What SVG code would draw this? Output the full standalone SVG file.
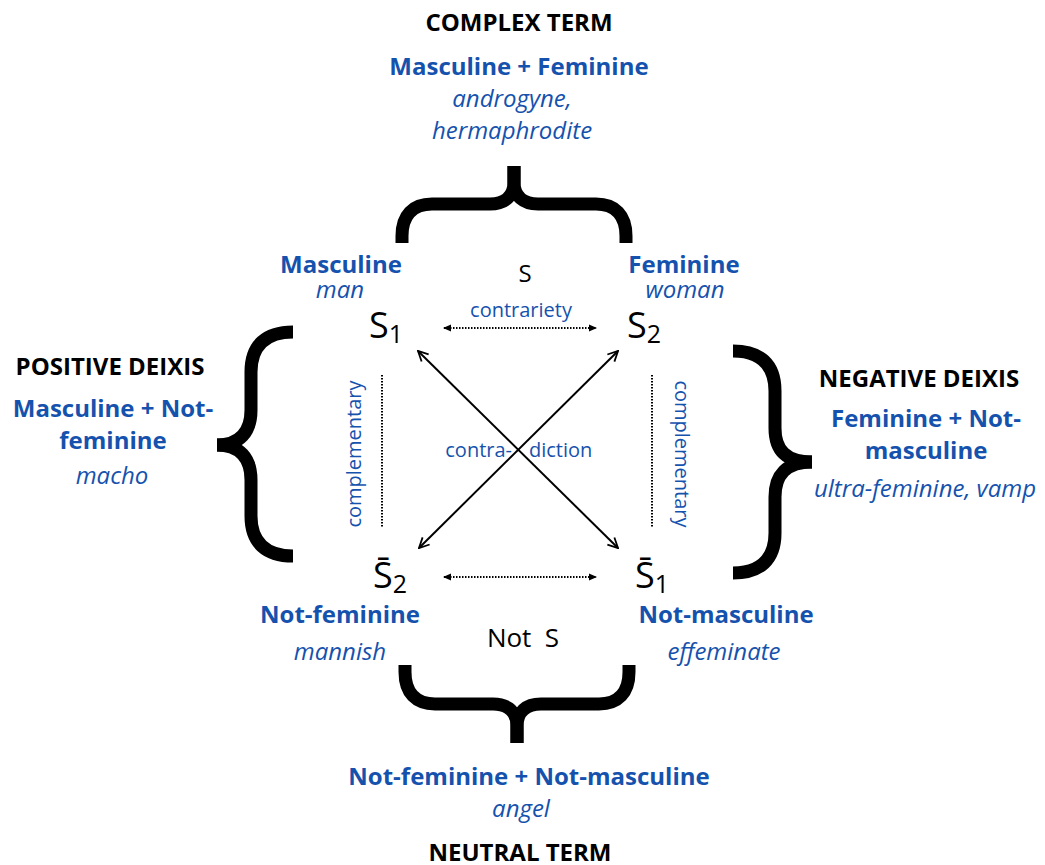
<svg xmlns="http://www.w3.org/2000/svg" width="1045" height="865" viewBox="0 0 1045 865">
<defs>
<style>
text{font-family:"Open Sans","Liberation Sans",sans-serif;}
.title{font-size:24px;font-weight:bold;fill:#000;text-anchor:middle;}
.bb{font-size:24px;font-weight:bold;fill:#1552ad;text-anchor:middle;}
.it{font-size:24px;font-style:italic;fill:#1552ad;text-anchor:middle;}
.lbl{font-size:20px;fill:#1552ad;}
.sym{font-size:36px;fill:#000;}
.brace{fill:none;stroke:#000;stroke-width:13;stroke-linejoin:round;stroke-linecap:butt;}
.diag{stroke:#000;stroke-width:2;marker-start:url(#open);marker-end:url(#open);}
.dot{stroke:#000;stroke-width:2;stroke-dasharray:1.5 1.5;fill:none;}
</style>
<marker id="open" markerUnits="userSpaceOnUse" viewBox="0 0 12 12" markerWidth="12" markerHeight="12" refX="11" refY="6" orient="auto-start-reverse">
<path d="M1,1 L11,6 L1,11" fill="none" stroke="#000" stroke-width="1.8"/>
</marker>
<marker id="tri" markerUnits="userSpaceOnUse" viewBox="0 0 8 8" markerWidth="8" markerHeight="8" refX="7" refY="4" orient="auto-start-reverse">
<path d="M0,0.5 L8,4 L0,7.5 z" fill="#000"/>
</marker>
</defs>
<rect width="1045" height="865" fill="#fff"/>

<g id="complex-term">
<text class="title" x="519" y="31">COMPLEX TERM</text>
<text class="bb" x="519" y="75">Masculine + Feminine</text>
<text class="it" x="512" y="107">androgyne,</text>
<text class="it" x="512" y="139">hermaphrodite</text>
<path class="brace" d="M402,243 L402,236 C402,215 413,204 432,204 L490,204 C505,204 514,196 514,182 L514,166"/>
<path class="brace" d="M626,243 L626,236 C626,215 615,204 596,204 L538,204 C523,204 514,196 514,182 L514,166"/>
</g>

<g id="s-label">
<text x="525" y="282" style="font-size:24px;fill:#000;text-anchor:middle">S</text>
</g>

<g id="s1">
<text class="bb" x="341" y="273">Masculine</text>
<text class="it" x="340" y="298">man</text>
<text class="sym" x="369" y="338">S<tspan font-size="25" dy="5">1</tspan></text>
</g>

<g id="s2">
<text class="bb" x="684" y="273">Feminine</text>
<text class="it" x="685" y="298">woman</text>
<text class="sym" x="627" y="338">S<tspan font-size="25" dy="5">2</tspan></text>
</g>

<g id="positive-deixis">
<text class="title" x="110" y="375">POSITIVE DEIXIS</text>
<text class="bb" x="113" y="417">Masculine + Not-</text>
<text class="bb" x="113" y="449">feminine</text>
<text class="it" x="112" y="484">macho</text>
<path class="brace" d="M293,332 C266,332 251,345 251,372 L251,410 C251,432 240,445 217,445"/>
<path class="brace" d="M293,556 C266,556 251,543 251,516 L251,480 C251,458 240,445 217,445"/>
</g>

<g id="negative-deixis">
<text class="title" x="919" y="387">NEGATIVE DEIXIS</text>
<text class="bb" x="926" y="427">Feminine + Not-</text>
<text class="bb" x="926" y="459">masculine</text>
<text class="it" x="925" y="497">ultra-feminine, vamp</text>
<path class="brace" d="M733,351 C760,351 775,364 775,391 L775,428 C775,450 786,462 812,462"/>
<path class="brace" d="M733,573 C760,573 775,560 775,533 L775,497 C775,475 786,462 812,462"/>
</g>

<g id="not-s2">
<text class="sym" x="373" y="588">S&#x0304;<tspan font-size="25" dy="5">2</tspan></text>
<text class="bb" x="340" y="623">Not-feminine</text>
<text class="it" x="340" y="660">mannish</text>
</g>

<g id="not-s1">
<text class="sym" x="635" y="588">S&#x0304;<tspan font-size="25" dy="5">1</tspan></text>
<text class="bb" x="726" y="623">Not-masculine</text>
<text class="it" x="724" y="660">effeminate</text>
</g>

<g id="not-s">
<text x="523" y="647" style="font-size:26px;fill:#000;text-anchor:middle" xml:space="preserve">Not  S</text>
</g>

<g id="neutral-term">
<path class="brace" d="M405,665 L405,672 C405,693 416,704 435,704 L493,704 C508,704 517,712 517,726 L517,743"/>
<path class="brace" d="M629,665 L629,672 C629,693 618,704 599,704 L541,704 C526,704 517,712 517,726 L517,743"/>
<text class="bb" x="529" y="785">Not-feminine + Not-masculine</text>
<text class="it" x="521" y="817">angel</text>
<text class="title" x="520" y="861">NEUTRAL TERM</text>
</g>

<g id="connectors">
<line class="dot" x1="444" y1="328" x2="596" y2="328" style="marker-start:url(#tri);marker-end:url(#tri)"/>
<line class="dot" x1="444" y1="577" x2="596" y2="577" style="marker-start:url(#tri);marker-end:url(#tri)"/>
<line class="dot" x1="382" y1="375" x2="382" y2="527"/>
<line class="dot" x1="652" y1="375" x2="652" y2="527"/>
<line class="diag" x1="418" y1="351" x2="618" y2="548"/>
<line class="diag" x1="618" y1="351" x2="419" y2="548"/>
<text class="lbl" x="521" y="317" text-anchor="middle">contrariety</text>
<text class="lbl" x="512" y="457" text-anchor="end">contra-</text>
<text class="lbl" x="529" y="457">diction</text>
<text class="lbl" transform="translate(361,454) rotate(-90)" text-anchor="middle">complementary</text>
<text class="lbl" transform="translate(675,454) rotate(90)" text-anchor="middle">complementary</text>
</g>
</svg>
